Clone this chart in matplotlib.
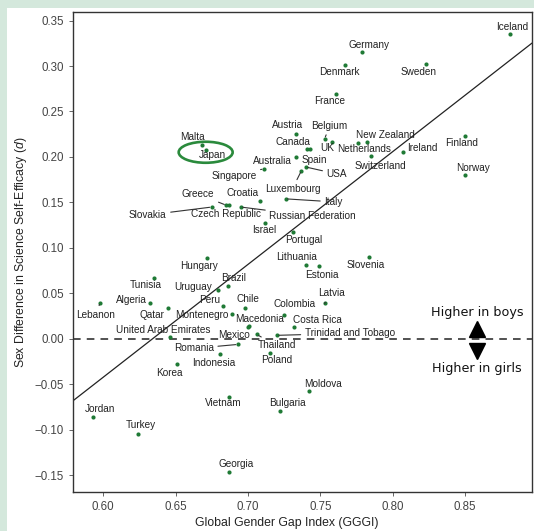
import numpy as np
import matplotlib.pyplot as plt
from matplotlib.patches import Ellipse, Rectangle

plt.rcParams['font.family'] = ['Liberation Sans', 'DejaVu Sans']
plt.rcParams['mathtext.fontset'] = 'custom'
plt.rcParams['mathtext.it'] = 'Liberation Sans:italic'

# values
countries = ['Iceland', 'Germany', 'Denmark', 'Sweden', 'France', 'Austria', 'Belgium',
             'Canada', 'Spain', 'UK', 'New Zealand', 'Netherlands', 'Switzerland', 'Ireland',
             'Finland', 'Norway', 'Malta', 'Japan', 'Australia', 'Singapore', 'USA',
             'Luxembourg', 'Italy', 'Croatia', 'Greece', 'Czech Republic', 'Slovakia',
             'Russian Federation', 'Israel', 'Portugal', 'Hungary', 'Lithuania', 'Estonia',
             'Slovenia', 'Tunisia', 'Uruguay', 'Brazil', 'Algeria', 'Lebanon', 'Qatar', 'Peru',
             'Chile', 'Montenegro', 'Colombia', 'Macedonia', 'Mexico', 'Costa Rica', 'Latvia',
             'United Arab Emirates', 'Thailand', 'Trinidad and Tobago', 'Romania', 'Indonesia',
             'Poland', 'Korea', 'Vietnam', 'Bulgaria', 'Moldova', 'Jordan', 'Turkey', 'Georgia']
gggi = [0.881, 0.779, 0.767, 0.823, 0.761, 0.733, 0.753,
        0.741, 0.743, 0.758, 0.776, 0.782, 0.785, 0.807,
        0.850, 0.850, 0.668, 0.671, 0.733, 0.711, 0.740,
        0.737, 0.726, 0.708, 0.685, 0.687, 0.675,
        0.695, 0.712, 0.731, 0.672, 0.740, 0.749,
        0.784, 0.635, 0.679, 0.686, 0.632, 0.598, 0.645, 0.683,
        0.698, 0.689, 0.725, 0.701, 0.700, 0.732, 0.753,
        0.646, 0.706, 0.720, 0.693, 0.681,
        0.715, 0.651, 0.687, 0.722, 0.742, 0.593, 0.624, 0.687]
d_sci = [0.335, 0.315, 0.301, 0.302, 0.269, 0.225, 0.220,
         0.209, 0.209, 0.216, 0.215, 0.216, 0.201, 0.205,
         0.223, 0.180, 0.213, 0.208, 0.200, 0.187, 0.189,
         0.185, 0.154, 0.152, 0.147, 0.147, 0.145,
         0.145, 0.127, 0.118, 0.089, 0.081, 0.080,
         0.090, 0.067, 0.054, 0.058, 0.039, 0.040, 0.034, 0.036,
         0.034, 0.027, 0.026, 0.014, 0.013, 0.013, 0.039,
         0.002, 0.005, 0.004, -0.006, -0.016,
         -0.015, -0.027, -0.064, -0.079, -0.057, -0.086, -0.104, -0.146]

# label offsets in pixels (dx, dy) from each point
offsets = {
    'Iceland': (2, 7), 'Germany': (7, 7), 'Denmark': (-6, -7), 'Sweden': (-7, -8),
    'France': (-7, -7), 'Austria': (-8, 9), 'Belgium': (5, 13), 'Canada': (-14, 7),
    'Spain': (4, -11), 'UK': (-5, -6), 'New Zealand': (27, 8), 'Netherlands': (-3, -7),
    'Switzerland': (9, -10), 'Ireland': (20, 4), 'Finland': (-3, -7), 'Norway': (8, 7),
    'Malta': (-9, 8), 'Japan': (6, -5), 'Australia': (-23, -4), 'Singapore': (-30, -7),
    'USA': (31, -7), 'Luxembourg': (-9, -18), 'Italy': (48, -3), 'Croatia': (-17, 8),
    'Greece': (-28, 11), 'Czech Republic': (-3, -9), 'Slovakia': (-64, -8),
    'Russian Federation': (72, -9), 'Israel': (-1, -7), 'Portugal': (11, -8),
    'Hungary': (-8, -8), 'Lithuania': (-9, 8), 'Estonia': (3, -9), 'Slovenia': (-4, -8),
    'Tunisia': (-8, -7), 'Uruguay': (-24, 3), 'Brazil': (6, 8), 'Algeria': (-18, 3),
    'Lebanon': (-5, -12), 'Qatar': (-16, -7), 'Peru': (-14, 6), 'Chile': (3, 9),
    'Montenegro': (-30, -1), 'Colombia': (10, 11), 'Macedonia': (10, 7),
    'Mexico': (-14, -8), 'Costa Rica': (23, 7), 'Latvia': (7, 10),
    'United Arab Emirates': (-7, 7), 'Thailand': (20, -11), 'Trinidad and Tobago': (73, 2),
    'Romania': (-44, -4), 'Indonesia': (-7, -9), 'Poland': (7, -7), 'Korea': (-8, -9),
    'Vietnam': (-6, -6), 'Bulgaria': (8, 8), 'Moldova': (14, 7), 'Jordan': (7, 8),
    'Turkey': (3, 9), 'Georgia': (7, 8),
}
leaders = {'Belgium', 'Singapore', 'USA', 'Luxembourg', 'Italy', 'Greece', 'Slovakia',
           'Russian Federation', 'Lebanon', 'Latvia', 'Thailand', 'Trinidad and Tobago',
           'Romania'}


def main():
    fig = plt.figure(figsize=(5.34, 5.31), dpi=100)
    fig.patch.set_facecolor('white')
    # light green frame on top and left edges
    fig.patches.append(Rectangle((0, 1 - 8 / 531), 1, 8 / 531, transform=fig.transFigure,
                                 facecolor='#d4e8dc', edgecolor='none'))
    fig.patches.append(Rectangle((0, 0), 7 / 534, 1, transform=fig.transFigure,
                                 facecolor='#d4e8dc', edgecolor='none'))

    ax = fig.add_axes([0.1361, 0.0729, 0.8596, 0.9039])
    x = np.array(gggi)
    y = np.array(d_sci)

    # regression line
    slope, intercept = np.polyfit(x, y, 1)
    xl = np.array([0.5789, 0.8961])
    ax.plot(xl, intercept + slope * xl, color='#222222', lw=0.9, zorder=1)
    ax.axhline(0, color='#222222', lw=1.1, ls=(0, (5, 4)), zorder=1)

    ax.scatter(x, y, s=9, color='#1f7a35', zorder=3, linewidths=0)

    for name, xi, yi in zip(countries, gggi, d_sci):
        dx, dy = offsets[name]
        props = None
        if name in leaders:
            props = dict(arrowstyle='-', color='#333333', lw=0.8, shrinkA=1, shrinkB=1.5)
        ax.annotate(name, (xi, yi), xytext=(dx, dy), textcoords='offset pixels',
                    ha='center', va='center', fontsize=7.2, color='#222222',
                    arrowprops=props, zorder=4)

    # highlight Japan
    ax.add_patch(Ellipse((0.6708, 0.2052), 0.0373, 0.0231, fill=False,
                         edgecolor='#2a8a3c', lw=1.9, zorder=5))

    # boys / girls arrows
    ax.text(0.8585, 0.029, 'Higher in boys', ha='center', va='center', fontsize=9.2,
            family='DejaVu Sans', color='#111111')
    ax.text(0.8585, -0.0326, 'Higher in girls', ha='center', va='center', fontsize=9.2,
            family='DejaVu Sans', color='#111111')
    ax.plot([0.8585], [0.011], marker='^', ms=11, color='black', zorder=5)
    ax.plot([0.8585], [-0.013], marker='v', ms=11, color='black', zorder=5)

    ax.set_xlim(0.5789, 0.8961)
    ax.set_ylim(-0.1685, 0.359)
    ax.set_xticks([0.60, 0.65, 0.70, 0.75, 0.80, 0.85])
    ax.set_yticks([-0.15, -0.10, -0.05, 0.00, 0.05, 0.10, 0.15, 0.20, 0.25, 0.30, 0.35])
    ax.set_xticklabels(['0.60', '0.65', '0.70', '0.75', '0.80', '0.85'])
    ax.set_yticklabels(['\u22120.15', '\u22120.10', '\u22120.05', '0.00', '0.05', '0.10',
                        '0.15', '0.20', '0.25', '0.30', '0.35'])
    ax.tick_params(labelsize=8.3, labelcolor='#444444', color='#666666', length=3, width=0.7)
    for sp in ax.spines.values():
        sp.set_linewidth(1.0)
        sp.set_color('#333333')

    ax.set_xlabel('Global Gender Gap Index (GGGI)', fontsize=8.8, color='#222222')
    ax.set_ylabel('Sex Difference in Science Self-Efficacy ($\\it{d}$)', fontsize=8.8,
                  color='#222222')
    ax.xaxis.set_label_coords(0.466, -0.052)
    ax.yaxis.set_label_coords(-0.095, 0.5)

    fig.savefig('out.png', dpi=100)


if __name__ == '__main__':
    main()
